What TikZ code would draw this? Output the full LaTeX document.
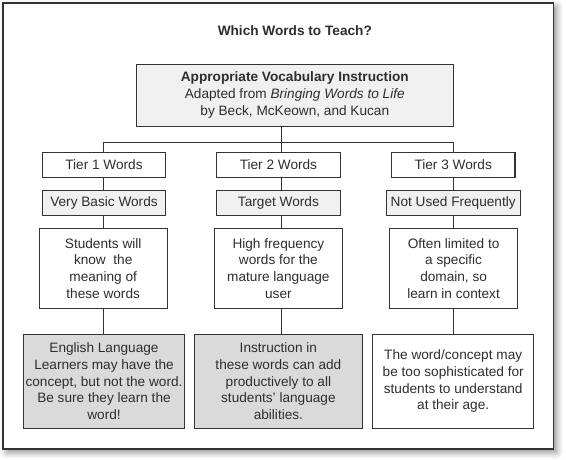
\documentclass[tikz,border=0pt]{standalone}
\usepackage{fontspec}
\setmainfont{Liberation Sans}
\usepackage{xcolor}
\usepackage{tikz}
\usetikzlibrary{shadows.blur}

\definecolor{edgegray}{HTML}{333333}
\definecolor{palefill}{HTML}{F0F0F0}
\definecolor{darkfill}{HTML}{DADADA}

\tikzset{
  every node/.style={font=\fontsize{9.7}{11.9}\selectfont, text=black!82},
  box/.style={draw=edgegray, line width=.75pt, align=center, inner sep=0pt},
  tierbox/.style={box, minimum width=3.09cm, minimum height=.625cm},
  kindbox/.style={box, fill=palefill, minimum width=3.09cm, minimum height=.625cm},
  infobox/.style={box, minimum width=3.2cm, minimum height=2cm},
  notebox/.style={box, minimum height=2.35cm}
}

\begin{document}
\begin{tikzpicture}
    \useasboundingbox (0,0) rectangle (14.15,11.5);
    % frame with shadow
    \draw[edgegray, line width=.8pt, fill=white,
      blur shadow={shadow xshift=.09cm, shadow yshift=-.09cm,
        shadow blur radius=.16cm, shadow opacity=45}]
      (.075,.275) rectangle (13.83,11.425);

    \node[font=\fontsize{9.7}{11.9}\selectfont\bfseries] (title) at (7.37,10.74) {Which Words to Teach?};
    \node[box, fill=palefill, minimum width=7.93cm, minimum height=1.55cm] (source) at (7.37,9.12)
      {\textbf{Appropriate Vocabulary Instruction}\\
       Adapted from \textit{Bringing Words to Life}\\
       by Beck, McKeown, and Kucan};

    % tiers
    \node[tierbox] (t1) at (2.6,7.38) {Tier 1 Words};
    \node[tierbox] (t2) at (6.96,7.38) {Tier 2 Words};
    \node[tierbox] (t3) at (11.33,7.38) {Tier 3 Words};

    \node[kindbox] (k1) at (2.6,6.43) {Very Basic Words};
    \node[kindbox] (k2) at (6.96,6.43) {Target Words};
    \node[kindbox, minimum width=3.35cm] (k3) at (11.33,6.43) {Not Used Frequently};

    \node[infobox] (d1) at (2.58,4.79) {Students will\\ know~ the\\ meaning of\\ these words};
    \node[infobox] (d2) at (6.96,4.79) {High frequency\\ words for the\\ mature language\\ user};
    \node[infobox] (d3) at (11.34,4.79) {Often limited to\\ a specific\\ domain, so\\ learn in context};

    \node[notebox, fill=darkfill, minimum width=4.03cm] (n1) at (2.6,1.97)
      {English Language\\ Learners may have the\\ concept, but not the word.\\ Be sure they learn the\\ word!};
    \node[notebox, fill=darkfill, minimum width=4.21cm] (n2) at (6.96,1.97)
      {Instruction in\\ these words can add\\ productively to all\\ students' language\\ abilities.};
    \node[notebox, minimum width=4.02cm] (n3) at (11.33,1.97)
      {The word/concept may\\ be too sophisticated for\\ students to understand\\ at their age.};

    \coordinate (colA) at (2.58,7.94);
    \coordinate (colB) at (7.04,7.94);
    \coordinate (colC) at (11.33,7.94);

    \begin{scope}[edgegray, line width=.75pt]
      \draw (source.south -| colB) -- (colB);
      \draw (colA) -- (colC);
      \draw (colA) -- (t1.north -| colA);
      \draw (colB) -- (t2.north -| colB);
      \draw (colC) -- (t3.north -| colC);
      \draw (t1.south -| colA) -- (k1.north -| colA);
      \draw (t2.south -| colB) -- (k2.north -| colB);
      \draw (t3.south -| colC) -- (k3.north -| colC);
      \draw (k1.south -| colA) -- (d1.north -| colA);
      \draw (k2.south -| colB) -- (d2.north -| colB);
      \draw (k3.south -| colC) -- (d3.north -| colC);
      \draw (d1.south -| colA) -- (n1.north -| colA);
      \draw (d2.south -| colB) -- (n2.north -| colB);
      \draw (d3.south -| colC) -- (n3.north -| colC);
    \end{scope}
  \end{tikzpicture}
\end{document}
